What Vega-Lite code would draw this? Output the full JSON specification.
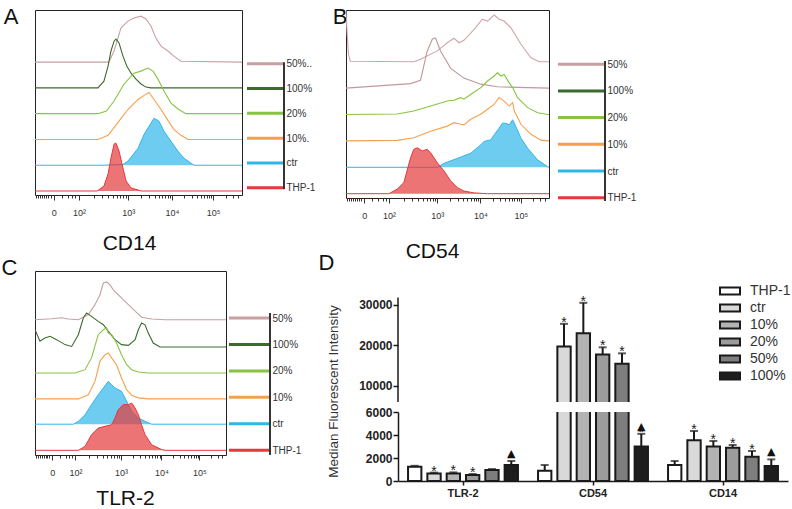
{
"$schema":"https://vega.github.io/schema/vega-lite/v6.json",
"padding":{"left":0,"top":5,"right":0,"bottom":0},
"config":{"font":"Liberation Sans","view":{"stroke":null},"axis":{"grid":false}},
"datasets":{
"A":[
{"s":"50%","x":0,"y":5.0},{"s":"50%","x":357,"y":5.0},{"s":"50%","x":382,"y":5.43},{"s":"50%","x":415,"y":6.32},{"s":"50%","x":449,"y":6.59},{"s":"50%","x":478,"y":6.71},{"s":"50%","x":512,"y":6.78},{"s":"50%","x":536,"y":6.67},{"s":"50%","x":560,"y":6.4},{"s":"50%","x":584,"y":5.93},{"s":"50%","x":609,"y":5.62},{"s":"50%","x":642,"y":5.43},{"s":"50%","x":671,"y":5.23},{"s":"50%","x":705,"y":5.03},{"s":"50%","x":1000,"y":5.0},
{"s":"100%","x":0,"y":4},{"s":"100%","x":304,"y":4},{"s":"100%","x":333,"y":4.26},{"s":"100%","x":353,"y":4.84},{"s":"100%","x":367,"y":5.43},{"s":"100%","x":382,"y":5.81},{"s":"100%","x":391,"y":5.89},{"s":"100%","x":406,"y":5.74},{"s":"100%","x":425,"y":5.23},{"s":"100%","x":444,"y":4.84},{"s":"100%","x":464,"y":4.57},{"s":"100%","x":488,"y":4.34},{"s":"100%","x":512,"y":4.15},{"s":"100%","x":536,"y":4.03},{"s":"100%","x":560,"y":4},{"s":"100%","x":1000,"y":4},
{"s":"20%","x":0,"y":3},{"s":"20%","x":304,"y":3},{"s":"20%","x":345,"y":3.1},{"s":"20%","x":382,"y":3.49},{"s":"20%","x":430,"y":4.15},{"s":"20%","x":478,"y":4.57},{"s":"20%","x":512,"y":4.65},{"s":"20%","x":546,"y":4.77},{"s":"20%","x":570,"y":4.65},{"s":"20%","x":594,"y":4.34},{"s":"20%","x":623,"y":3.88},{"s":"20%","x":657,"y":3.41},{"s":"20%","x":691,"y":3.18},{"s":"20%","x":729,"y":3.0},{"s":"20%","x":1000,"y":3},
{"s":"10%","x":0,"y":2},{"s":"10%","x":304,"y":2},{"s":"10%","x":353,"y":2.16},{"s":"10%","x":401,"y":2.66},{"s":"10%","x":449,"y":3.16},{"s":"10%","x":498,"y":3.55},{"s":"10%","x":527,"y":3.71},{"s":"10%","x":551,"y":3.82},{"s":"10%","x":575,"y":3.55},{"s":"10%","x":609,"y":3.16},{"s":"10%","x":642,"y":2.74},{"s":"10%","x":671,"y":2.39},{"s":"10%","x":705,"y":2.16},{"s":"10%","x":739,"y":2.0},{"s":"10%","x":1000,"y":2},
{"s":"ctr","x":0,"y":1},{"s":"ctr","x":333,"y":1},{"s":"ctr","x":425,"y":1.03},{"s":"ctr","x":449,"y":1.16},{"s":"ctr","x":498,"y":1.66},{"s":"ctr","x":527,"y":2.2},{"s":"ctr","x":560,"y":2.63},{"s":"ctr","x":575,"y":2.82},{"s":"ctr","x":599,"y":2.71},{"s":"ctr","x":623,"y":2.32},{"s":"ctr","x":657,"y":1.93},{"s":"ctr","x":691,"y":1.54},{"s":"ctr","x":720,"y":1.27},{"s":"ctr","x":754,"y":1.08},{"s":"ctr","x":768,"y":1.0},{"s":"ctr","x":1000,"y":1},
{"s":"THP-1","x":0,"y":0},{"s":"THP-1","x":300,"y":0},{"s":"THP-1","x":309,"y":0.05},{"s":"THP-1","x":333,"y":0.19},{"s":"THP-1","x":353,"y":0.66},{"s":"THP-1","x":367,"y":1.28},{"s":"THP-1","x":382,"y":1.82},{"s":"THP-1","x":391,"y":1.86},{"s":"THP-1","x":406,"y":1.55},{"s":"THP-1","x":425,"y":0.89},{"s":"THP-1","x":440,"y":0.39},{"s":"THP-1","x":464,"y":0.12},{"s":"THP-1","x":498,"y":0.04},{"s":"THP-1","x":512,"y":0},{"s":"THP-1","x":1000,"y":0}
],
"B":[
{"s":"50%","x":0,"y":6.92},{"s":"50%","x":4,"y":6.3},{"s":"50%","x":12,"y":5.3},{"s":"50%","x":21,"y":5.02},{"s":"50%","x":334,"y":5.0},{"s":"50%","x":367,"y":5.09},{"s":"50%","x":450,"y":5.41},{"s":"50%","x":499,"y":5.72},{"s":"50%","x":532,"y":5.89},{"s":"50%","x":557,"y":5.72},{"s":"50%","x":581,"y":5.81},{"s":"50%","x":631,"y":6.23},{"s":"50%","x":672,"y":6.61},{"s":"50%","x":697,"y":6.54},{"s":"50%","x":730,"y":6.77},{"s":"50%","x":754,"y":6.61},{"s":"50%","x":779,"y":6.54},{"s":"50%","x":812,"y":6.29},{"s":"50%","x":862,"y":5.66},{"s":"50%","x":911,"y":5.15},{"s":"50%","x":952,"y":5.0},{"s":"50%","x":1000,"y":5.0},
{"s":"100%","x":0,"y":4.0},{"s":"100%","x":318,"y":4.17},{"s":"100%","x":367,"y":4.3},{"s":"100%","x":400,"y":5.4},{"s":"100%","x":425,"y":5.85},{"s":"100%","x":441,"y":5.9},{"s":"100%","x":466,"y":5.4},{"s":"100%","x":516,"y":4.75},{"s":"100%","x":581,"y":4.38},{"s":"100%","x":664,"y":4.15},{"s":"100%","x":746,"y":4.05},{"s":"100%","x":1000,"y":4.0},
{"s":"20%","x":0,"y":3},{"s":"20%","x":252,"y":3.02},{"s":"20%","x":334,"y":3.13},{"s":"20%","x":417,"y":3.32},{"s":"20%","x":499,"y":3.51},{"s":"20%","x":532,"y":3.54},{"s":"20%","x":565,"y":3.64},{"s":"20%","x":581,"y":3.58},{"s":"20%","x":614,"y":3.76},{"s":"20%","x":664,"y":4.02},{"s":"20%","x":697,"y":4.27},{"s":"20%","x":730,"y":4.46},{"s":"20%","x":746,"y":4.58},{"s":"20%","x":763,"y":4.46},{"s":"20%","x":779,"y":4.52},{"s":"20%","x":804,"y":4.2},{"s":"20%","x":821,"y":4.02},{"s":"20%","x":845,"y":3.64},{"s":"20%","x":895,"y":3.26},{"s":"20%","x":944,"y":3.07},{"s":"20%","x":994,"y":3.0},{"s":"20%","x":1000,"y":3.0},
{"s":"10%","x":0,"y":2},{"s":"10%","x":252,"y":2.02},{"s":"10%","x":334,"y":2.12},{"s":"10%","x":417,"y":2.37},{"s":"10%","x":499,"y":2.56},{"s":"10%","x":532,"y":2.69},{"s":"10%","x":565,"y":2.63},{"s":"10%","x":581,"y":2.61},{"s":"10%","x":614,"y":2.82},{"s":"10%","x":664,"y":3.01},{"s":"10%","x":697,"y":3.2},{"s":"10%","x":730,"y":3.39},{"s":"10%","x":754,"y":3.64},{"s":"10%","x":779,"y":3.51},{"s":"10%","x":804,"y":3.32},{"s":"10%","x":821,"y":3.45},{"s":"10%","x":829,"y":3.13},{"s":"10%","x":862,"y":2.63},{"s":"10%","x":911,"y":2.25},{"s":"10%","x":960,"y":2.03},{"s":"10%","x":1000,"y":2.0},
{"s":"ctr","x":0,"y":1},{"s":"ctr","x":450,"y":1.0},{"s":"ctr","x":483,"y":1.15},{"s":"ctr","x":549,"y":1.34},{"s":"ctr","x":614,"y":1.53},{"s":"ctr","x":664,"y":1.85},{"s":"ctr","x":680,"y":1.98},{"s":"ctr","x":713,"y":2.04},{"s":"ctr","x":730,"y":2.23},{"s":"ctr","x":754,"y":2.48},{"s":"ctr","x":771,"y":2.67},{"s":"ctr","x":787,"y":2.67},{"s":"ctr","x":804,"y":2.61},{"s":"ctr","x":821,"y":2.8},{"s":"ctr","x":837,"y":2.54},{"s":"ctr","x":862,"y":2.1},{"s":"ctr","x":895,"y":1.72},{"s":"ctr","x":944,"y":1.28},{"s":"ctr","x":994,"y":1.02},{"s":"ctr","x":1000,"y":1.0},
{"s":"THP-1","x":0,"y":0},{"s":"THP-1","x":211,"y":0},{"s":"THP-1","x":252,"y":0.17},{"s":"THP-1","x":285,"y":0.42},{"s":"THP-1","x":318,"y":1.36},{"s":"THP-1","x":334,"y":1.68},{"s":"THP-1","x":351,"y":1.74},{"s":"THP-1","x":376,"y":1.62},{"s":"THP-1","x":400,"y":1.68},{"s":"THP-1","x":417,"y":1.55},{"s":"THP-1","x":450,"y":1.17},{"s":"THP-1","x":483,"y":0.86},{"s":"THP-1","x":516,"y":0.48},{"s":"THP-1","x":549,"y":0.23},{"s":"THP-1","x":581,"y":0.1},{"s":"THP-1","x":631,"y":0.03},{"s":"THP-1","x":697,"y":0},{"s":"THP-1","x":1000,"y":0}
],
"C":[
{"s":"50%","x":0,"y":5.0},{"s":"50%","x":87,"y":5.04},{"s":"50%","x":140,"y":5.08},{"s":"50%","x":174,"y":5.03},{"s":"50%","x":227,"y":5.0},{"s":"50%","x":279,"y":5.2},{"s":"50%","x":314,"y":5.58},{"s":"50%","x":340,"y":5.96},{"s":"50%","x":358,"y":6.41},{"s":"50%","x":375,"y":6.45},{"s":"50%","x":393,"y":6.34},{"s":"50%","x":410,"y":6.15},{"s":"50%","x":436,"y":5.96},{"s":"50%","x":462,"y":5.77},{"s":"50%","x":489,"y":5.58},{"s":"50%","x":524,"y":5.33},{"s":"50%","x":558,"y":5.1},{"s":"50%","x":611,"y":5.03},{"s":"50%","x":681,"y":5.0},{"s":"50%","x":1000,"y":5.0},
{"s":"100%","x":0,"y":4.62},{"s":"100%","x":26,"y":4.18},{"s":"100%","x":52,"y":4.3},{"s":"100%","x":79,"y":4.37},{"s":"100%","x":113,"y":4.24},{"s":"100%","x":157,"y":4.05},{"s":"100%","x":192,"y":3.98},{"s":"100%","x":227,"y":4.43},{"s":"100%","x":253,"y":5.07},{"s":"100%","x":270,"y":5.26},{"s":"100%","x":296,"y":5.13},{"s":"100%","x":331,"y":4.94},{"s":"100%","x":358,"y":4.81},{"s":"100%","x":384,"y":4.56},{"s":"100%","x":419,"y":4.24},{"s":"100%","x":453,"y":4.05},{"s":"100%","x":489,"y":4.02},{"s":"100%","x":524,"y":4.24},{"s":"100%","x":541,"y":4.62},{"s":"100%","x":558,"y":4.88},{"s":"100%","x":576,"y":4.81},{"s":"100%","x":593,"y":4.49},{"s":"100%","x":619,"y":4.11},{"s":"100%","x":654,"y":3.96},{"s":"100%","x":1000,"y":3.96},
{"s":"20%","x":0,"y":2.96},{"s":"20%","x":209,"y":2.96},{"s":"20%","x":262,"y":3.09},{"s":"20%","x":296,"y":3.54},{"s":"20%","x":331,"y":4.43},{"s":"20%","x":358,"y":4.62},{"s":"20%","x":375,"y":4.69},{"s":"20%","x":384,"y":4.49},{"s":"20%","x":401,"y":4.43},{"s":"20%","x":427,"y":4.11},{"s":"20%","x":453,"y":3.66},{"s":"20%","x":480,"y":3.28},{"s":"20%","x":506,"y":3.09},{"s":"20%","x":541,"y":3.0},{"s":"20%","x":593,"y":2.96},{"s":"20%","x":1000,"y":2.96},
{"s":"10%","x":0,"y":1.97},{"s":"10%","x":227,"y":1.97},{"s":"10%","x":279,"y":2.13},{"s":"10%","x":314,"y":2.64},{"s":"10%","x":340,"y":3.41},{"s":"10%","x":367,"y":3.66},{"s":"10%","x":384,"y":3.73},{"s":"10%","x":401,"y":3.54},{"s":"10%","x":427,"y":3.28},{"s":"10%","x":453,"y":2.77},{"s":"10%","x":480,"y":2.32},{"s":"10%","x":506,"y":2.11},{"s":"10%","x":541,"y":2.01},{"s":"10%","x":593,"y":1.97},{"s":"10%","x":1000,"y":1.97},
{"s":"ctr","x":0,"y":1.0},{"s":"ctr","x":201,"y":1.0},{"s":"ctr","x":227,"y":1.11},{"s":"ctr","x":262,"y":1.36},{"s":"ctr","x":296,"y":1.75},{"s":"ctr","x":331,"y":2.13},{"s":"ctr","x":358,"y":2.39},{"s":"ctr","x":384,"y":2.64},{"s":"ctr","x":401,"y":2.51},{"s":"ctr","x":419,"y":2.39},{"s":"ctr","x":453,"y":2.26},{"s":"ctr","x":480,"y":1.88},{"s":"ctr","x":506,"y":1.49},{"s":"ctr","x":541,"y":1.24},{"s":"ctr","x":576,"y":1.11},{"s":"ctr","x":611,"y":1.0},{"s":"ctr","x":1000,"y":1.0},
{"s":"THP-1","x":0,"y":0},{"s":"THP-1","x":227,"y":0},{"s":"THP-1","x":262,"y":0.15},{"s":"THP-1","x":296,"y":0.6},{"s":"THP-1","x":331,"y":0.85},{"s":"THP-1","x":367,"y":0.92},{"s":"THP-1","x":401,"y":0.98},{"s":"THP-1","x":419,"y":1.24},{"s":"THP-1","x":436,"y":1.56},{"s":"THP-1","x":462,"y":1.75},{"s":"THP-1","x":489,"y":1.75},{"s":"THP-1","x":506,"y":1.81},{"s":"THP-1","x":524,"y":1.62},{"s":"THP-1","x":541,"y":1.36},{"s":"THP-1","x":558,"y":0.98},{"s":"THP-1","x":576,"y":0.6},{"s":"THP-1","x":611,"y":0.21},{"s":"THP-1","x":663,"y":0.03},{"s":"THP-1","x":681,"y":0},{"s":"THP-1","x":1000,"y":0}
],
"L":[{"s":"50%","lv":5},{"s":"100%","lv":4},{"s":"20%","lv":3},{"s":"10%","lv":2},{"s":"ctr","lv":1},{"s":"THP-1","lv":0}],
"D":[
{"g":"TLR-2","s":"THP-1","v":1250,"hi":1320,"st":"","tr":""},
{"g":"TLR-2","s":"ctr","v":650,"hi":730,"st":"*","tr":""},
{"g":"TLR-2","s":"10%","v":650,"hi":750,"st":"*","tr":""},
{"g":"TLR-2","s":"20%","v":530,"hi":610,"st":"*","tr":""},
{"g":"TLR-2","s":"50%","v":950,"hi":1040,"st":"","tr":""},
{"g":"TLR-2","s":"100%","v":1400,"hi":1740,"st":"","tr":"▲"},
{"g":"CD54","s":"THP-1","v":900,"hi":1390,"st":"","tr":""},
{"g":"CD54","s":"ctr","v":19700,"hi":25300,"st":"*","tr":""},
{"g":"CD54","s":"10%","v":23000,"hi":30500,"st":"*","tr":""},
{"g":"CD54","s":"20%","v":17700,"hi":19500,"st":"*","tr":""},
{"g":"CD54","s":"50%","v":15400,"hi":18000,"st":"*","tr":""},
{"g":"CD54","s":"100%","v":3000,"hi":4100,"st":"*","tr":"▲"},
{"g":"CD14","s":"THP-1","v":1400,"hi":1740,"st":"","tr":""},
{"g":"CD14","s":"ctr","v":3550,"hi":4350,"st":"*","tr":""},
{"g":"CD14","s":"10%","v":3000,"hi":3480,"st":"*","tr":""},
{"g":"CD14","s":"20%","v":2900,"hi":3130,"st":"*","tr":""},
{"g":"CD14","s":"50%","v":2100,"hi":2610,"st":"*","tr":""},
{"g":"CD14","s":"100%","v":1300,"hi":1880,"st":"","tr":"▲"}
]
},
"spacing":-11,
"resolve":{"scale":{"color":"independent","fill":"independent"}},
"vconcat":[
{"spacing":16,"resolve":{"scale":{"color":"independent","fill":"independent"}},
 "hconcat":[
 {"bounds":"flush","spacing":5,"resolve":{"scale":{"color":"independent"}},
  "hconcat":[
  {"width":207,"height":185,"view":{"stroke":"#222","strokeWidth":1},"data":{"name":"A"},
   "encoding":{
    "x":{"field":"x","type":"quantitative","scale":{"domain":[0,1000],"nice":false,"zero":false},
     "axis":{"values":[5,15,25,35,45,55,65,75,90,130,160,180,195,212,284,325,355,378,397,413,427,439,450,514,551,578,598,615,629,641,652,662,722,757,782,801,817,830,842,852,861,921,956,981],"tickCount":200,
      "labelExpr":"datum.value==90?'0':datum.value==212?'10²':datum.value==450?'10³':datum.value==662?'10⁴':datum.value==861?'10⁵':''",
      "tickSize":{"condition":{"test":"indexof([90,212,450,662,861],datum.value)>=0","value":5},"value":3},
      "domain":false,"tickColor":"#333","labelFontSize":9,"labelColor":"#333","labelPadding":8,"labelOverlap":false,
      "title":"CD14","titleFontSize":21,"titleFontWeight":"normal","titleColor":"#111","titleX":94,"titleY":54,"titleAlign":"center","titleBaseline":"alphabetic"}},
    "y":{"field":"y","type":"quantitative","scale":{"domain":[-0.155,7.02],"nice":false,"zero":false},
     "axis":{"domain":false,"ticks":false,"labels":false,"title":"A","titleAngle":0,"titleFontSize":22,"titleFontWeight":"normal","titleColor":"#111","titleX":-17,"titleY":13.5,"titleAlign":"right","titleBaseline":"alphabetic"}}},
   "layer":[
    {"transform":[{"filter":"datum.s!='ctr' && datum.s!='THP-1'"}],"mark":{"type":"line","strokeWidth":1.1,"clip":true},
     "encoding":{"color":{"field":"s","type":"nominal","scale":{"domain":["50%","100%","20%","10%"],"range":["#c9a0a2","#3b6a2c","#86c441","#f6a04d"]},"legend":null}}},
    {"transform":[{"filter":"datum.s=='ctr'"}],"mark":{"type":"area","color":"#2fb6e9","line":{"color":"#2fb6e9","strokeWidth":1},"clip":true},"encoding":{"y2":{"datum":1}}},
    {"transform":[{"filter":"datum.s=='THP-1'"}],"mark":{"type":"area","color":"#e6393b","line":{"color":"#e6393b","strokeWidth":1},"clip":true},"encoding":{"y2":{"datum":0}}}
   ]},
  {"width":37,"height":185,"data":{"name":"L"},
   "layer":[
    {"mark":{"type":"rule","strokeWidth":3},
     "encoding":{
      "x":{"datum":0,"type":"quantitative","scale":{"domain":[0,1],"nice":false,"zero":false},"axis":null},
      "x2":{"datum":1},
      "y":{"field":"lv","type":"quantitative","scale":{"domain":[-0.29,7.16],"nice":false,"zero":false},
       "axis":{"orient":"right","values":[0,1,2,3,4,5],"tickCount":200,"labelExpr":"datum.value==5?'50%..':datum.value==4?'100%':datum.value==3?'20%':datum.value==2?'10%.':datum.value==1?'ctr':'THP-1'","labelOverlap":false,"domain":false,"ticks":false,"labelFontSize":10,"labelColor":"#333","labelPadding":2,"title":null}},
      "color":{"field":"s","type":"nominal","scale":{"domain":["50%","100%","20%","10%","ctr","THP-1"],"range":["#c9a0a2","#3b6a2c","#86c441","#f6a04d","#2fb6e9","#e6393b"]},"legend":null}}},
    {"mark":{"type":"rule","color":"#333","strokeWidth":1},
     "encoding":{"x":{"datum":1,"type":"quantitative"},"y":{"datum":-0.05,"type":"quantitative"},"y2":{"datum":5.04}}}
   ]}
  ]},
 {"bounds":"flush","spacing":9,"resolve":{"scale":{"color":"independent"}},
  "hconcat":[
  {"width":203,"height":188,"view":{"stroke":"#222","strokeWidth":1},"data":{"name":"B"},
   "encoding":{
    "x":{"field":"x","type":"quantitative","scale":{"domain":[0,1000],"nice":false,"zero":false},
     "axis":{"values":[5,15,25,35,45,55,65,75,90,130,160,180,195,212,284,325,355,378,397,413,427,439,450,514,551,578,598,615,629,641,652,662,722,757,782,801,817,830,842,852,861,921,956,981],"tickCount":200,
      "labelExpr":"datum.value==90?'0':datum.value==212?'10²':datum.value==450?'10³':datum.value==662?'10⁴':datum.value==861?'10⁵':''",
      "tickSize":{"condition":{"test":"indexof([90,212,450,662,861],datum.value)>=0","value":5},"value":3},
      "domain":false,"tickColor":"#333","labelFontSize":9,"labelColor":"#333","labelPadding":8,"labelOverlap":false,
      "title":"CD54","titleFontSize":21,"titleFontWeight":"normal","titleColor":"#111","titleX":86,"titleY":59,"titleAlign":"center","titleBaseline":"alphabetic"}},
    "y":{"field":"y","type":"quantitative","scale":{"domain":[-0.163,6.96],"nice":false,"zero":false},
     "axis":{"domain":false,"ticks":false,"labels":false,"title":"B","titleAngle":0,"titleFontSize":22,"titleFontWeight":"normal","titleColor":"#111","titleX":1,"titleY":13.5,"titleAlign":"right","titleBaseline":"alphabetic"}}},
   "layer":[
    {"transform":[{"filter":"datum.s!='ctr' && datum.s!='THP-1'"}],"mark":{"type":"line","strokeWidth":1.1,"clip":true},
     "encoding":{"color":{"field":"s","type":"nominal","scale":{"domain":["50%","100%","20%","10%"],"range":["#cfa6a8","#c49799","#86c441","#f6a04d"]},"legend":null}}},
    {"transform":[{"filter":"datum.s=='ctr'"}],"mark":{"type":"area","color":"#2fb6e9","line":{"color":"#2fb6e9","strokeWidth":1},"clip":true},"encoding":{"y2":{"datum":1}}},
    {"transform":[{"filter":"datum.s=='THP-1'"}],"mark":{"type":"area","color":"#e6393b","line":{"color":"#e6393b","strokeWidth":1},"clip":true},"encoding":{"y2":{"datum":0}}}
   ]},
  {"width":47,"height":188,"data":{"name":"L"},
   "layer":[
    {"mark":{"type":"rule","strokeWidth":3},
     "encoding":{
      "x":{"datum":0,"type":"quantitative","scale":{"domain":[0,1],"nice":false,"zero":false},"axis":null},
      "x2":{"datum":1},
      "y":{"field":"lv","type":"quantitative","scale":{"domain":[-0.01,7.03],"nice":false,"zero":false},
       "axis":{"orient":"right","values":[0,1,2,3,4,5],"tickCount":200,"labelExpr":"datum.value==5?'50%':datum.value==4?'100%':datum.value==3?'20%':datum.value==2?'10%':datum.value==1?'ctr':'THP-1'","labelOverlap":false,"domain":false,"ticks":false,"labelFontSize":10,"labelColor":"#333","labelPadding":2,"title":null}},
      "color":{"field":"s","type":"nominal","scale":{"domain":["50%","100%","20%","10%","ctr","THP-1"],"range":["#c9a0a2","#3b6a2c","#86c441","#f6a04d","#2fb6e9","#e6393b"]},"legend":null}}},
    {"mark":{"type":"rule","color":"#333","strokeWidth":1},
     "encoding":{"x":{"datum":1,"type":"quantitative"},"y":{"datum":-0.12,"type":"quantitative"},"y2":{"datum":5.12}}}
   ]}
  ]}
 ]},
{"spacing":17,"resolve":{"scale":{"color":"independent","fill":"independent"}},
 "hconcat":[
 {"bounds":"flush","spacing":3,"resolve":{"scale":{"color":"independent"}},
  "hconcat":[
  {"width":191,"height":184,"view":{"stroke":"#222","strokeWidth":1},"data":{"name":"C"},
   "encoding":{
    "x":{"field":"x","type":"quantitative","scale":{"domain":[0,1000],"nice":false,"zero":false},
     "axis":{"values":[5,15,25,35,45,55,65,75,90,130,160,180,195,212,284,325,355,378,397,413,427,439,450,514,551,578,598,615,629,641,652,662,722,757,782,801,817,830,842,852,861,921,956,981],"tickCount":200,
      "labelExpr":"datum.value==90?'0':datum.value==212?'10²':datum.value==450?'10³':datum.value==662?'10⁴':datum.value==861?'10⁵':''",
      "tickSize":{"condition":{"test":"indexof([90,212,450,662,861],datum.value)>=0","value":5},"value":3},
      "domain":false,"tickColor":"#333","labelFontSize":9,"labelColor":"#333","labelPadding":8,"labelOverlap":false,
      "title":"TLR-2","titleFontSize":21,"titleFontWeight":"normal","titleColor":"#111","titleX":90,"titleY":49,"titleAlign":"center","titleBaseline":"alphabetic"}},
    "y":{"field":"y","type":"quantitative","scale":{"domain":[-0.18,6.87],"nice":false,"zero":false},
     "axis":{"domain":false,"ticks":false,"labels":false,"title":"C","titleAngle":0,"titleFontSize":22,"titleFontWeight":"normal","titleColor":"#111","titleX":-18,"titleY":3,"titleAlign":"right","titleBaseline":"alphabetic"}}},
   "layer":[
    {"transform":[{"filter":"datum.s!='ctr' && datum.s!='THP-1'"}],"mark":{"type":"line","strokeWidth":1.1,"clip":true},
     "encoding":{"color":{"field":"s","type":"nominal","scale":{"domain":["50%","100%","20%","10%"],"range":["#c9a0a2","#3b6a2c","#86c441","#f6a04d"]},"legend":null}}},
    {"transform":[{"filter":"datum.s=='ctr'"}],"mark":{"type":"area","color":"#2fb6e9","line":{"color":"#2fb6e9","strokeWidth":1},"clip":true},"encoding":{"y2":{"datum":1}}},
    {"transform":[{"filter":"datum.s=='THP-1'"}],"mark":{"type":"area","color":"#e6393b","line":{"color":"#e6393b","strokeWidth":1},"clip":true},"encoding":{"y2":{"datum":0}}}
   ]},
  {"width":41,"height":184,"data":{"name":"L"},
   "layer":[
    {"mark":{"type":"rule","strokeWidth":3},
     "encoding":{
      "x":{"datum":0,"type":"quantitative","scale":{"domain":[0,1],"nice":false,"zero":false},"axis":null},
      "x2":{"datum":1},
      "y":{"field":"lv","type":"quantitative","scale":{"domain":[-0.18,6.78],"nice":false,"zero":false},
       "axis":{"orient":"right","values":[0,1,2,3,4,5],"tickCount":200,"labelExpr":"datum.value==5?'50%':datum.value==4?'100%':datum.value==3?'20%':datum.value==2?'10%':datum.value==1?'ctr':'THP-1'","labelOverlap":false,"domain":false,"ticks":false,"labelFontSize":10,"labelColor":"#333","labelPadding":2,"title":null}},
      "color":{"field":"s","type":"nominal","scale":{"domain":["50%","100%","20%","10%","ctr","THP-1"],"range":["#c9a0a2","#3b6a2c","#86c441","#f6a04d","#2fb6e9","#e6393b"]},"legend":null}}},
    {"mark":{"type":"rule","color":"#333","strokeWidth":1},
     "encoding":{"x":{"datum":1,"type":"quantitative"},"y":{"datum":-0.17,"type":"quantitative"},"y2":{"datum":5.19}}}
   ]}
  ]},
 {"bounds":"flush","spacing":10,"resolve":{"scale":{"fill":"independent","xOffset":"independent"}},
  "vconcat":[
  {"width":390,"height":131,"data":{"name":"D"},
   "encoding":{
    "x":{"field":"g","type":"nominal","sort":["TLR-2","CD54","CD14"],"scale":{"domain":["TLR-2","CD54","CD14"],"paddingInner":0,"paddingOuter":0},"axis":null}},
   "layer":[
    {"transform":[{"filter":"datum.v > 6000"}],"mark":{"type":"bar","clip":true,"stroke":"#1a1a1a","strokeWidth":2},
     "encoding":{
      "xOffset":{"field":"s","type":"nominal","sort":["THP-1","ctr","10%","20%","50%","100%"],"scale":{"domain":["THP-1","ctr","10%","20%","50%","100%"],"paddingInner":0.31,"paddingOuter":0.52}},
      "y":{"field":"v","type":"quantitative","scale":{"domain":[5970,38370],"nice":false,"zero":false},
       "axis":{"values":[10000,20000,30000],"tickCount":200,"format":"d","domain":false,"tickSize":5,"tickWidth":1.5,"tickColor":"#1a1a1a","labelFontWeight":"bold","labelFontSize":12,"labelColor":"#222","labelPadding":1,"labelOverlap":false,
        "title":"D","titleAngle":0,"titleFontSize":22,"titleFontWeight":"normal","titleColor":"#111","titleX":-64,"titleY":-2,"titleAlign":"right","titleBaseline":"alphabetic"}},
      "fill":{"field":"s","type":"nominal","scale":{"domain":["THP-1","ctr","10%","20%","50%","100%"],"range":["#ffffff","#d9d9d9","#b3b3b3","#9c9c9c","#7e7e7e","#1e1e1e"]},
       "legend":{"orient":"none","legendX":323,"legendY":11,"title":null,"values":["THP-1","ctr","10%","20%","50%","100%"],"symbolType":"M-1.25,-0.44H1.25V0.44H-1.25Z","symbolSize":256,"symbolStrokeColor":"#1a1a1a","symbolStrokeWidth":2,"labelFontSize":14,"labelColor":"#333","labelOffset":11,"rowPadding":-1,"padding":0}}}},
    {"transform":[{"filter":"datum.v > 6000"}],"mark":{"type":"rule","clip":true,"strokeWidth":2,"color":"#1a1a1a"},
     "encoding":{"xOffset":{"field":"s","type":"nominal","sort":["THP-1","ctr","10%","20%","50%","100%"]},"y":{"field":"v","type":"quantitative"},"y2":{"field":"hi"}}},
    {"transform":[{"filter":"datum.v > 6000"}],"mark":{"type":"tick","clip":true,"thickness":2,"size":8,"color":"#1a1a1a","orient":"horizontal"},
     "encoding":{"xOffset":{"field":"s","type":"nominal","sort":["THP-1","ctr","10%","20%","50%","100%"]},"y":{"field":"hi","type":"quantitative"}}},
    {"transform":[{"filter":"datum.v > 6000 && datum.st != ''"}],"mark":{"type":"text","fontSize":14,"dy":3,"baseline":"alphabetic","color":"#222"},
     "encoding":{"xOffset":{"field":"s","type":"nominal","sort":["THP-1","ctr","10%","20%","50%","100%"]},"y":{"field":"hi","type":"quantitative"},"text":{"field":"st"}}},
    {"data":{"values":[{"g":"TLR-2"}]},"mark":{"type":"rule","strokeWidth":1.5,"color":"#1a1a1a"},
     "encoding":{"x":{"field":"g","type":"nominal","bandPosition":0},"y":{"datum":5970,"type":"quantitative"},"y2":{"datum":31800}}}
   ]},
  {"width":390,"height":69,"data":{"name":"D"},
   "encoding":{
    "x":{"field":"g","type":"nominal","sort":["TLR-2","CD54","CD14"],"scale":{"domain":["TLR-2","CD54","CD14"],"paddingInner":0,"paddingOuter":0},
     "axis":{"title":null,"labelAngle":0,"labelFontWeight":"bold","labelFontSize":11,"labelColor":"#222","tickSize":4,"tickWidth":1.5,"tickColor":"#1a1a1a","domainWidth":1.5,"domainColor":"#1a1a1a","labelPadding":2}}},
   "layer":[
    {"mark":{"type":"bar","clip":true,"stroke":"#1a1a1a","strokeWidth":2},
     "encoding":{
      "xOffset":{"field":"s","type":"nominal","sort":["THP-1","ctr","10%","20%","50%","100%"],"scale":{"domain":["THP-1","ctr","10%","20%","50%","100%"],"paddingInner":0.31,"paddingOuter":0.52}},
      "y":{"field":"v","type":"quantitative","scale":{"domain":[0,6000],"nice":false},
       "axis":{"values":[0,2000,4000,6000],"tickCount":200,"format":"d","domainWidth":1.5,"domainColor":"#1a1a1a","tickSize":5,"tickWidth":1.5,"tickColor":"#1a1a1a","labelFontWeight":"bold","labelFontSize":12,"labelColor":"#222","labelPadding":1,"labelOverlap":false,
        "title":"Median Fluorescent Intensity","titleFontSize":13.5,"titleFontWeight":"normal","titleColor":"#333","titleX":-65,"titleY":-21,"titleAlign":"center","titleBaseline":"middle"}},
      "fill":{"field":"s","type":"nominal","scale":{"domain":["THP-1","ctr","10%","20%","50%","100%"],"range":["#ffffff","#d9d9d9","#b3b3b3","#9c9c9c","#7e7e7e","#1e1e1e"]},"legend":null}}},
    {"transform":[{"filter":"datum.hi <= 6000"}],"mark":{"type":"rule","strokeWidth":2,"color":"#1a1a1a"},
     "encoding":{"xOffset":{"field":"s","type":"nominal","sort":["THP-1","ctr","10%","20%","50%","100%"]},"y":{"field":"v","type":"quantitative"},"y2":{"field":"hi"}}},
    {"transform":[{"filter":"datum.hi <= 6000"}],"mark":{"type":"tick","thickness":2,"size":8,"color":"#1a1a1a","orient":"horizontal"},
     "encoding":{"xOffset":{"field":"s","type":"nominal","sort":["THP-1","ctr","10%","20%","50%","100%"]},"y":{"field":"hi","type":"quantitative"}}},
    {"transform":[{"filter":"datum.hi <= 6000 && datum.st != ''"}],"mark":{"type":"text","fontSize":14,"dy":3,"baseline":"alphabetic","color":"#222"},
     "encoding":{"xOffset":{"field":"s","type":"nominal","sort":["THP-1","ctr","10%","20%","50%","100%"]},"y":{"field":"hi","type":"quantitative"},"text":{"field":"st"}}},
    {"transform":[{"filter":"datum.hi <= 6000 && datum.tr != ''"}],"mark":{"type":"text","font":"DejaVu Sans","fontSize":11,"dy":-7,"baseline":"middle","color":"#111"},
     "encoding":{"xOffset":{"field":"s","type":"nominal","sort":["THP-1","ctr","10%","20%","50%","100%"]},"y":{"field":"hi","type":"quantitative"},"text":{"field":"tr"}}}
   ]}
  ]}
 ]}
]
}
